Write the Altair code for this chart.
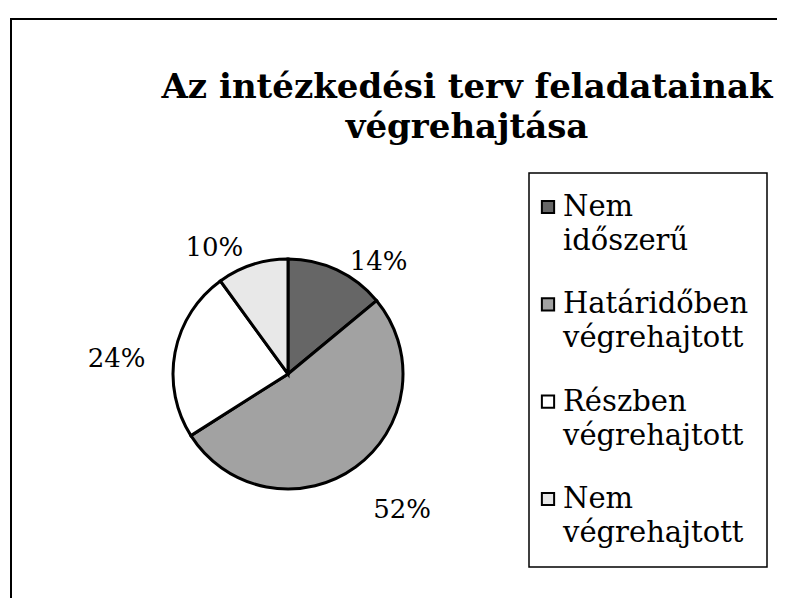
import altair as alt
import pandas as pd

# ---- data ----
categories = ["Nem időszerű", "Határidőben végrehajtott", "Részben végrehajtott", "Nem végrehajtott"]
legend_labels = ["Nem\nidőszerű", "Határidőben\nvégrehajtott", "Részben\nvégrehajtott", "Nem\nvégrehajtott"]
percent = [14, 52, 24, 10]
pct_labels = ["14%", "52%", "24%", "10%"]
colors = ["#666666", "#a2a2a2", "#ffffff", "#e8e8e8"]
title_lines = ["Az intézkedési terv feladatainak", "végrehajtása"]

df = pd.DataFrame({
    "category": categories,
    "legend": legend_labels,
    "value": percent,
    "label": pct_labels,
    "idx": list(range(len(categories))),
})
one = pd.DataFrame({"t": ["\n".join(title_lines)]})

W, H = 769, 590
CX, CY = 280, 366
SERIF = "DejaVu Serif"

color_scale = alt.Scale(domain=categories, range=colors)

base = alt.Chart(df).encode(
    theta=alt.Theta("value:Q", stack=True),
    order=alt.Order("idx:Q"),
    x=alt.value(CX),
    y=alt.value(CY),
)

pie = base.mark_arc(outerRadius=115, stroke="black", strokeWidth=3).encode(
    color=alt.Color("category:N", scale=color_scale, legend=None)
)

lab_base = base.transform_joinaggregate(
    total="sum(value)"
).transform_window(
    cum="sum(value)", sort=[alt.SortField("idx")]
).transform_calculate(
    mid="(datum.cum - datum.value / 2) / datum.total"
)

labels_right = lab_base.mark_text(
    radius=145, align="left", baseline="middle", dy=19,
    font=SERIF, fontSize=26, color="black"
).encode(
    text=alt.condition("datum.mid < 0.5", alt.Text("label:N"), alt.value("")),
    detail="category:N",
)

labels_left = lab_base.mark_text(
    radius=145, align="right", baseline="middle", dy=12,
    font=SERIF, fontSize=26, color="black"
).encode(
    text=alt.condition("datum.mid >= 0.5", alt.Text("label:N"), alt.value("")),
    detail="category:N",
)

border = alt.Chart(one).mark_rect(fill="white", stroke="black", strokeWidth=2).encode(
    x=alt.value(3), x2=alt.value(W + 20), y=alt.value(11), y2=alt.value(H + 20)
)

title = alt.Chart(one).mark_text(
    font=SERIF, fontWeight="bold", fontSize=34, lineBreak="\n", lineHeight=40,
    align="center", baseline="middle", color="black"
).encode(x=alt.value(459), y=alt.value(80), text="t:N")

legend_box = alt.Chart(one).mark_rect(fill="white", stroke="black", strokeWidth=1.5).encode(
    x=alt.value(521), x2=alt.value(759), y=alt.value(165), y2=alt.value(559)
)

leg_y = alt.Y("category:N", scale=alt.Scale(domain=categories, range=[199, 491], padding=0), axis=None)

leg_sym = alt.Chart(df).mark_square(size=150, stroke="black", strokeWidth=2, opacity=1).encode(
    x=alt.value(540),
    y=leg_y,
    fill=alt.Fill("category:N", scale=color_scale, legend=None),
)

leg_text = alt.Chart(df).mark_text(
    font=SERIF, fontSize=29, lineBreak="\n", lineHeight=34, align="left",
    baseline="middle", color="black"
).encode(x=alt.value(555), y=leg_y, text="legend:N")

chart = alt.layer(
    border, title, pie, labels_right, labels_left, legend_box, leg_sym, leg_text
).properties(
    width=W, height=H, padding=0, autosize=alt.AutoSizeParams(type="none")
).configure_view(stroke=None)

chart.save("out.html", embed_options={"renderer": "svg", "actions": False})
